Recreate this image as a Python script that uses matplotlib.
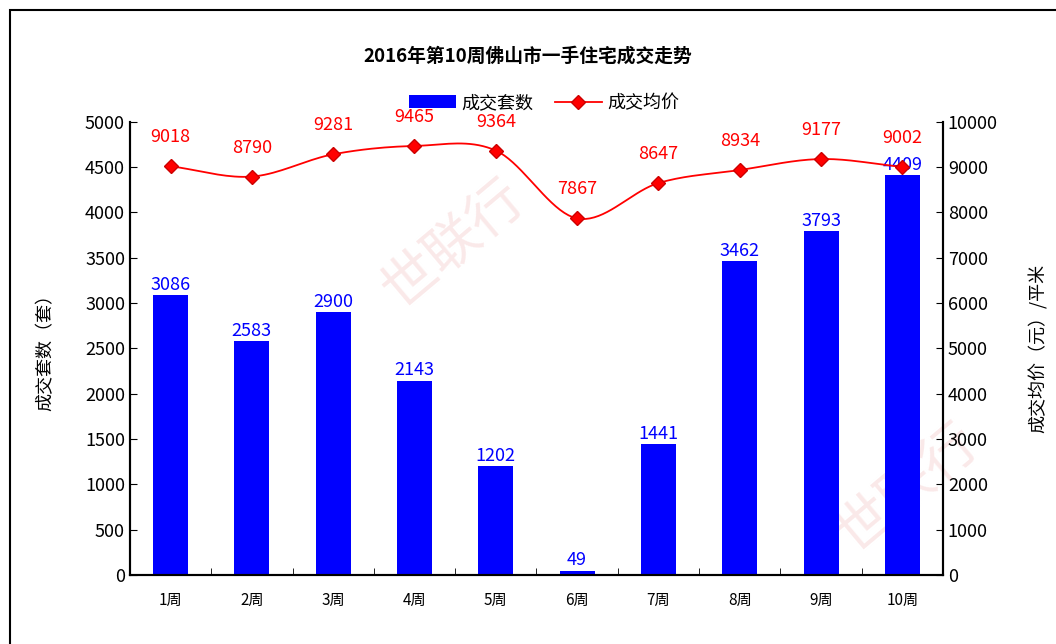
import numpy as np
import matplotlib.pyplot as plt
from matplotlib.patches import Rectangle

plt.rcParams['font.family'] = ['Noto Sans CJK SC', 'DejaVu Sans']

# ================= 数据 =================
weeks = ["1周", "2周", "3周", "4周", "5周", "6周", "7周", "8周", "9周", "10周"]
volume = [3086, 2583, 2900, 2143, 1202, 49, 1441, 3462, 3793, 4409]
price = [9018, 8790, 9281, 9465, 9364, 7867, 8647, 8934, 9177, 9002]
# ========================================


def smooth_curve(x, y, n=20):
    """Catmull-Rom 平滑曲线 (类似 Excel 平滑线)"""
    x = np.asarray(x, float)
    y = np.asarray(y, float)
    px = np.concatenate([[2 * x[0] - x[1]], x, [2 * x[-1] - x[-2]]])
    py = np.concatenate([[2 * y[0] - y[1]], y, [2 * y[-1] - y[-2]]])
    xs, ys = [], []
    t = np.linspace(0, 1, n)
    for i in range(1, len(px) - 2):
        for arr, out in ((px, xs), (py, ys)):
            p0, p1, p2, p3 = arr[i - 1], arr[i], arr[i + 1], arr[i + 2]
            out.extend(0.5 * ((2 * p1) + (-p0 + p2) * t
                              + (2 * p0 - 5 * p1 + 4 * p2 - p3) * t ** 2
                              + (-p0 + 3 * p1 - 3 * p2 + p3) * t ** 3))
    return np.array(xs), np.array(ys)


fig = plt.figure(figsize=(10.56, 6.44), dpi=100)
fig.patches.append(Rectangle((10 / 1056, -0.1), 1.2, 1 - 10 / 644 + 0.1,
                             transform=fig.transFigure, fill=False,
                             edgecolor='black', linewidth=1.5))

# 水印 (画在坐标轴下面)
for (wx, wy, s) in [(0.43, 0.62, 40), (0.86, 0.24, 40)]:
    fig.text(wx, wy, "世联行", fontsize=s, color='#f6d3d3', alpha=0.5,
             rotation=40, ha='center', va='center', zorder=-5)

ax = fig.add_axes([0.123, 0.107, 0.770, 0.704])
ax.patch.set_alpha(0)
x = np.arange(len(weeks))
ax.bar(x, volume, width=0.43, color='#0000ff', label='成交套数', zorder=2)
ax.set_ylim(0, 5000)
ax.set_xlim(-0.5, len(weeks) - 0.5)
ax.set_yticks(range(0, 5001, 500))
ax.set_xticks(x)
ax.set_xticklabels(weeks, fontsize=11)
ax.set_xticks(np.arange(-0.5, len(weeks)), minor=True)
ax.tick_params(axis='x', which='major', length=0, pad=12)
ax.tick_params(axis='x', which='minor', direction='in', length=5)
ax.tick_params(axis='y', direction='in', length=5, labelsize=13)
ax.spines['top'].set_visible(False)
for sp in ax.spines.values():
    sp.set_linewidth(1.5)
ax.set_ylabel("成交套数（套）", fontsize=13, labelpad=22)

for xi, v in zip(x, volume):
    ax.text(xi, v + 15, str(v), color='#0000ff', fontsize=13,
            ha='center', va='bottom', zorder=5)

ax2 = ax.twinx()
ax2.set_ylim(0, 10000)
ax2.set_yticks(range(0, 10001, 1000))
ax2.tick_params(axis='y', direction='in', length=5, labelsize=13)
ax2.spines['top'].set_visible(False)
for sp in ax2.spines.values():
    sp.set_linewidth(1.5)
ax2.set_ylabel("成交均价（元）/平米", fontsize=13, labelpad=22)

sx, sy = smooth_curve(x, price)
ax2.plot(sx, sy, color='red', linewidth=1.3, zorder=3)
ax2.plot(x, price, linestyle='none', marker='D', markersize=7,
         color='red', markeredgecolor='#cc0000', zorder=4)
ax2.plot([], [], color='red', linewidth=1.3, marker='D', markersize=7,
         markeredgecolor='#cc0000', label='成交均价')
for xi, p in zip(x, price):
    ax2.text(xi, p + 440, str(p), color='red', fontsize=13,
             ha='center', va='bottom', zorder=5)

h1, l1 = ax.get_legend_handles_labels()
h2, l2 = ax2.get_legend_handles_labels()
fig.legend(h1 + h2, l1 + l2, loc='center', bbox_to_anchor=(0.515, 0.84),
           ncol=2, frameon=False, fontsize=13, handlelength=2.6,
           handletextpad=0.3, columnspacing=1.2)

fig.text(0.5, 0.913, "2016年第10周佛山市一手住宅成交走势", ha='center',
         va='center', fontsize=13.5, fontweight='bold')

plt.savefig("out.png", dpi=100)
